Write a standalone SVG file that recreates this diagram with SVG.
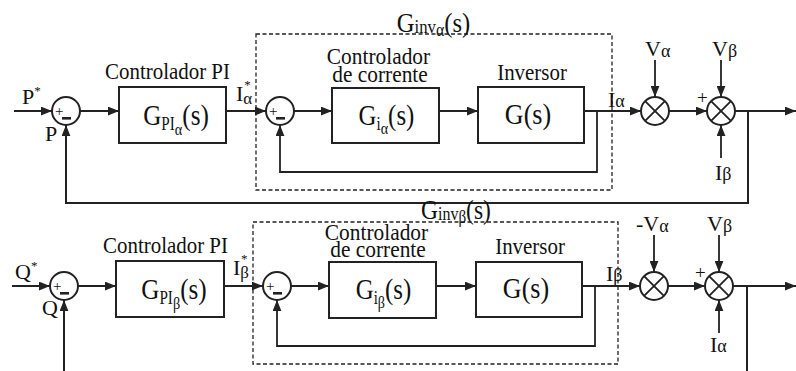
<svg xmlns="http://www.w3.org/2000/svg" width="796" height="371" viewBox="0 0 796 371" font-family="'Liberation Serif', 'Times New Roman', serif">
<style>
text, tspan{font-family:"Liberation Serif","Times New Roman",Times,serif;fill:#111}
.lbl{font-size:22px}
.t{font-size:23px}
.g{font-size:30px}
.ln{fill:none;stroke:#222;stroke-width:1.8}
.fb{fill:none;stroke:#222;stroke-width:2}
.box{fill:#fff;stroke:#222;stroke-width:2}
.dash{fill:none;stroke:#222;stroke-width:1.3;stroke-dasharray:4 2.5}
.sum{fill:#fff;stroke:#222;stroke-width:2}
.x{stroke:#222;stroke-width:1.8}
.pl{font-size:15px}
</style>
<defs>
<marker id="ah" viewBox="0 0 10 8" refX="10" refY="4" markerWidth="11" markerHeight="9" markerUnits="userSpaceOnUse" orient="auto"><path d="M0,0 L10,4 L0,8 z" fill="#222"/></marker>
</defs>

<g id="connectors">
<path class="ln" d="M14,111 H52" marker-end="url(#ah)"/>
<path class="ln" d="M80,111 H119" marker-end="url(#ah)"/>
<path class="ln" d="M226,111 H266" marker-end="url(#ah)"/>
<path class="ln" d="M294,111 H332" marker-end="url(#ah)"/>
<path class="ln" d="M439,111 H478" marker-end="url(#ah)"/>
<path class="ln" d="M584,111 H641" marker-end="url(#ah)"/>
<path class="ln" d="M597,111 V172 H280 V125" marker-end="url(#ah)"/>
<path class="ln" d="M655,60 V97" marker-end="url(#ah)"/>
<path class="ln" d="M669,111 H707" marker-end="url(#ah)"/>
<path class="ln" d="M721,60 V97" marker-end="url(#ah)"/>
<path class="ln" d="M721,158 V125" marker-end="url(#ah)"/>
<path class="fb" d="M735,111 H796" marker-end="url(#ah)"/>
<path class="fb" d="M748,111 V203 H66 V125" marker-end="url(#ah)"/>
<path class="ln" d="M12,286 H50" marker-end="url(#ah)"/>
<path class="ln" d="M78,286 H116" marker-end="url(#ah)"/>
<path class="ln" d="M224,286 H263" marker-end="url(#ah)"/>
<path class="ln" d="M291,286 H329" marker-end="url(#ah)"/>
<path class="ln" d="M436,286 H476" marker-end="url(#ah)"/>
<path class="ln" d="M582,286 H640" marker-end="url(#ah)"/>
<path class="ln" d="M595,286 V346 H277 V300" marker-end="url(#ah)"/>
<path class="ln" d="M654,235 V272" marker-end="url(#ah)"/>
<path class="ln" d="M668,286 H705" marker-end="url(#ah)"/>
<path class="ln" d="M719,235 V272" marker-end="url(#ah)"/>
<path class="ln" d="M719,333 V300" marker-end="url(#ah)"/>
<path class="fb" d="M733,286 H796" marker-end="url(#ah)"/>
<path class="fb" d="M747,286 V371"/>
<path class="fb" d="M64,371 V300" marker-end="url(#ah)"/>
</g>

<g id="inv-alpha-block">
<rect class="dash" x="256" y="34" width="356" height="156"/>
<text transform="translate(433.5,32) scale(0.88,1)" text-anchor="middle"><tspan font-size="28">G</tspan><tspan font-size="19" dy="1">inv</tspan><tspan font-size="18" dy="3">α</tspan><tspan font-size="28" dy="-4">(s)</tspan></text>
</g>
<g id="sum-p">
<circle class="sum" cx="66" cy="111" r="14"/>
<text class="pl" x="55" y="116">+</text>
<rect x="62" y="117" width="9" height="2.6" fill="#222"/>
<text class="lbl" x="22" y="104">P<tspan font-size="13" dy="-9">*</tspan></text>
<text class="lbl" x="45" y="141">P</text>
</g>
<g id="pi-alpha">
<rect class="box" x="119" y="87" width="107" height="56"/>
<text class="t" transform="translate(167.5,79) scale(0.91,1)" text-anchor="middle">Controlador PI</text>
<text transform="translate(176,125) scale(0.84,1)" text-anchor="middle"><tspan class="g">G</tspan><tspan font-size="18" dy="5">PI</tspan><tspan font-size="17" dy="5">α</tspan><tspan class="g" dy="-10">(s)</tspan></text>
<text class="lbl" x="236" y="101">I<tspan font-size="17" dy="3">α</tspan><tspan font-size="13" dx="-8" dy="-15">*</tspan></text>
</g>
<g id="sum-ia">
<circle class="sum" cx="280" cy="111" r="14"/>
<text class="pl" x="269" y="116">+</text>
<rect x="276" y="117" width="9" height="2.6" fill="#222"/>
</g>
<g id="cc-alpha">
<rect class="box" x="332" y="88" width="107" height="55"/>
<text class="t" transform="translate(378.5,64) scale(0.93,1)" text-anchor="middle">Controlador</text>
<text class="t" transform="translate(380,82) scale(0.93,1)" text-anchor="middle">de corrente</text>
<text transform="translate(386.5,125) scale(0.83,1)" text-anchor="middle"><tspan class="g">G</tspan><tspan font-size="18" dy="5">i</tspan><tspan font-size="17" dy="4">α</tspan><tspan class="g" dy="-9">(s)</tspan></text>
</g>
<g id="inv-alpha">
<rect class="box" x="478" y="87" width="106" height="56"/>
<text class="t" transform="translate(532,80) scale(0.91,1)" text-anchor="middle">Inversor</text>
<text class="g" transform="translate(528,124) scale(0.87,1)" text-anchor="middle">G(s)</text>
<text class="lbl" x="608" y="107">I<tspan font-size="18">α</tspan></text>
</g>
<g id="mult-va">
<circle class="sum" cx="655" cy="111" r="14"/>
<path class="x" d="M645.1,101.1 L664.9,120.9 M664.9,101.1 L645.1,120.9"/>
<text class="lbl" x="645" y="56">V<tspan font-size="18" dy="1">α</tspan></text>
</g>
<g id="mult-vb">
<circle class="sum" cx="721" cy="111" r="14"/>
<path class="x" d="M711.1,101.1 L730.9,120.9 M730.9,101.1 L711.1,120.9"/>
<text font-size="19" x="697" y="104">+</text>
<text class="lbl" x="712" y="56">V<tspan font-size="18" dy="1">β</tspan></text>
<text class="lbl" x="715" y="180">I<tspan font-size="18">β</tspan></text>
</g>

<g id="inv-beta-block">
<rect class="dash" x="253" y="222" width="365" height="142"/>
<text transform="translate(456,219) scale(0.84,1)" text-anchor="middle"><tspan font-size="28">G</tspan><tspan font-size="19" dy="1">inv</tspan><tspan font-size="18" dy="3">β</tspan><tspan font-size="28" dy="-4">(s)</tspan></text>
</g>
<g id="sum-q">
<circle class="sum" cx="64" cy="286" r="14"/>
<text class="pl" x="53" y="291">+</text>
<rect x="60" y="292" width="9" height="2.6" fill="#222"/>
<text class="lbl" x="15" y="279">Q<tspan font-size="13" dy="-9">*</tspan></text>
<text class="lbl" x="42" y="315">Q</text>
</g>
<g id="pi-beta">
<rect class="box" x="116" y="261" width="108" height="56"/>
<text class="t" transform="translate(165.5,253) scale(0.91,1)" text-anchor="middle">Controlador PI</text>
<text transform="translate(174,299) scale(0.84,1)" text-anchor="middle"><tspan class="g">G</tspan><tspan font-size="18" dy="5">PI</tspan><tspan font-size="17" dy="5">β</tspan><tspan class="g" dy="-10">(s)</tspan></text>
<text class="lbl" x="233" y="275">I<tspan font-size="17" dy="3">β</tspan><tspan font-size="13" dx="-8" dy="-15">*</tspan></text>
</g>
<g id="sum-ib">
<circle class="sum" cx="277" cy="286" r="14"/>
<text class="pl" x="266" y="291">+</text>
<rect x="273" y="292" width="9" height="2.6" fill="#222"/>
</g>
<g id="cc-beta">
<rect class="box" x="329" y="262" width="107" height="56"/>
<text class="t" transform="translate(376.5,240) scale(0.93,1)" text-anchor="middle">Controlador</text>
<text class="t" transform="translate(378,257) scale(0.93,1)" text-anchor="middle">de corrente</text>
<text transform="translate(383.5,299) scale(0.83,1)" text-anchor="middle"><tspan class="g">G</tspan><tspan font-size="18" dy="5">i</tspan><tspan font-size="17" dy="4">β</tspan><tspan class="g" dy="-9">(s)</tspan></text>
</g>
<g id="inv-beta">
<rect class="box" x="476" y="262" width="106" height="55"/>
<text class="t" transform="translate(530,254) scale(0.91,1)" text-anchor="middle">Inversor</text>
<text class="g" transform="translate(526,298) scale(0.87,1)" text-anchor="middle">G(s)</text>
<text class="lbl" x="606" y="281">I<tspan font-size="18">β</tspan></text>
</g>
<g id="mult-nva">
<circle class="sum" cx="654" cy="286" r="14"/>
<path class="x" d="M644.1,276.1 L663.9,295.9 M663.9,276.1 L644.1,295.9"/>
<text class="lbl" x="636" y="231">-V<tspan font-size="18" dy="1">α</tspan></text>
</g>
<g id="mult-vb2">
<circle class="sum" cx="719" cy="286" r="14"/>
<path class="x" d="M709.1,276.1 L728.9,295.9 M728.9,276.1 L709.1,295.9"/>
<text font-size="19" x="695" y="279">+</text>
<text class="lbl" x="707" y="231">V<tspan font-size="18" dy="1">β</tspan></text>
<text class="lbl" x="710" y="352">I<tspan font-size="18">α</tspan></text>
</g>
</svg>
